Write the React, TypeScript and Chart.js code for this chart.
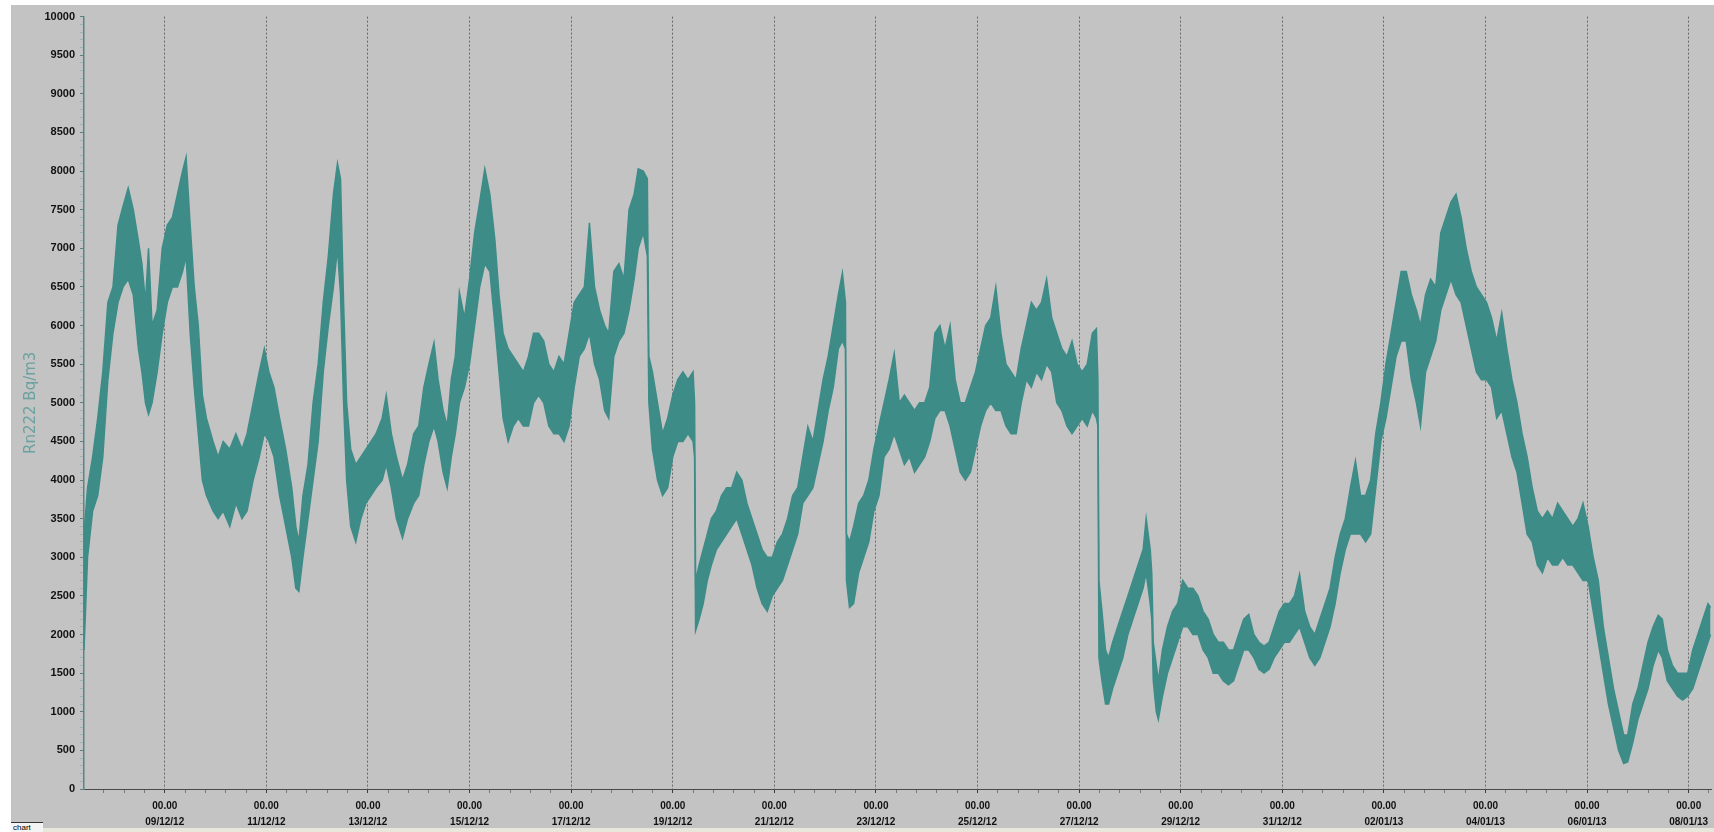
import React, { useEffect, useRef } from 'react';
import { Chart, registerables } from 'chart.js';

Chart.register(...registerables);

// time in days since 09/12/12 00:00
const times = [
  -1.59, -1.52, -1.42, -1.32, -1.22, -1.12, -1.02, -0.92, -0.82, -0.72, -0.62, -0.52, -0.45, -0.38, -0.32, -0.25, -0.15, -0.05,
  0.05, 0.15, 0.25, 0.35, 0.42, 0.5, 0.58, 0.66, 0.74, 0.82, 0.95, 1.05, 1.15, 1.28, 1.4, 1.52, 1.62, 1.74, 1.86, 1.96,
  2.05, 2.15, 2.26, 2.38, 2.5, 2.58, 2.64, 2.72, 2.82, 2.92, 3.02, 3.12, 3.22, 3.32, 3.4, 3.46, 3.52, 3.58, 3.66, 3.76, 3.86, 3.96,
  4.06, 4.16, 4.28, 4.36, 4.46, 4.56, 4.68, 4.78, 4.9,
  5.0, 5.1, 5.2, 5.3, 5.38, 5.48, 5.56, 5.64, 5.72, 5.8, 5.9, 6.0, 6.1, 6.2, 6.3, 6.4, 6.5, 6.58, 6.66, 6.76, 6.86, 6.96,
  7.06, 7.16, 7.26, 7.36, 7.46, 7.56, 7.66, 7.76, 7.86, 7.96, 8.06, 8.16, 8.26, 8.36, 8.46, 8.56, 8.66, 8.74, 8.84, 8.94,
  9.04, 9.14, 9.24, 9.32, 9.42, 9.5, 9.53, 9.6, 9.7, 9.8, 9.9, 10.0, 10.1, 10.2, 10.3, 10.4, 10.43, 10.45, 10.52, 10.6, 10.68,
  10.76, 10.86, 10.96, 11.06, 11.16, 11.26, 11.36, 11.46,
  11.56, 11.66, 11.76, 11.86, 11.96, 12.06, 12.16, 12.26, 12.36, 12.46, 12.56, 12.66, 12.76, 12.86, 12.96, 13.06, 13.16, 13.26,
  13.34, 13.4, 13.42, 13.48, 13.56, 13.66, 13.76, 13.86, 13.96, 14.06, 14.16, 14.26, 14.36, 14.46, 14.56, 14.66, 14.76, 14.86,
  14.96, 15.06, 15.16, 15.26, 15.36, 15.46, 15.56, 15.66, 15.76, 15.86, 15.96, 16.06, 16.16, 16.26, 16.36, 16.46, 16.56, 16.66,
  16.76, 16.86, 16.96, 17.06, 17.16, 17.26, 17.36, 17.46, 17.56, 17.66, 17.76, 17.86,
  17.96, 18.06, 18.16, 18.26, 18.34, 18.37, 18.39, 18.45, 18.52, 18.58, 18.66, 18.76, 18.86, 18.96, 19.06, 19.16, 19.26, 19.32,
  19.4, 19.43, 19.46, 19.52, 19.56, 19.64, 19.74, 19.84, 19.94, 20.04, 20.14, 20.24, 20.34, 20.44, 20.54, 20.64, 20.74, 20.84,
  20.94, 21.04, 21.14, 21.24, 21.34, 21.44, 21.54, 21.64, 21.74, 21.84, 21.94, 22.04, 22.14, 22.24, 22.34, 22.44, 22.54, 22.64,
  22.74, 22.84, 22.94, 23.04, 23.14, 23.24, 23.34, 23.44, 23.54, 23.64, 23.74, 23.84, 23.94, 24.04, 24.14, 24.24, 24.34,
  24.44, 24.54, 24.64, 24.72, 24.82, 24.92, 25.02, 25.12, 25.22, 25.32, 25.42, 25.52, 25.62, 25.72, 25.82, 25.92, 26.02, 26.12,
  26.22, 26.32, 26.42, 26.52, 26.62, 26.72, 26.82, 26.92, 27.02, 27.12, 27.22, 27.32, 27.42, 27.52, 27.62, 27.72, 27.82, 27.92,
  28.02, 28.12, 28.22, 28.32, 28.42, 28.52, 28.62, 28.72, 28.8, 28.9, 29.0, 29.1, 29.2, 29.3, 29.4, 29.48, 29.58, 29.68,
  29.78, 29.88, 29.98, 30.08, 30.18, 30.28, 30.38, 30.43,
];

// lower edge of the noisy Rn222 trace (Bq/m3)
const lows = [
  1800, 3000, 3600, 3800, 4300, 5300, 5900, 6300, 6500, 6600, 6400, 5700, 5400, 5000, 4850, 5000, 5400, 5900,
  6300, 6500, 6500, 6700, 6900, 5900, 5200, 4600, 4000, 3800, 3600, 3500, 3600, 3400, 3700, 3500, 3600, 4000, 4300, 4600,
  4500, 4300, 3800, 3400, 3000, 2600, 2560, 3000, 3500, 4000, 4500, 5400, 6000, 6500, 7000, 6400, 5000, 4000, 3400, 3200, 3500, 3700,
  3800, 3900, 4000, 4200, 3900, 3500, 3250, 3500, 3700,
  3800, 4200, 4500, 4700, 4500, 4100, 3900, 4300, 4600, 5000, 5200, 5500, 6000, 6500, 6800, 6700, 6000, 5400, 4800, 4500, 4700, 4800,
  4700, 4700, 5000, 5100, 5000, 4700, 4600, 4600, 4500, 4700, 5200, 5600, 5700, 5900, 5500, 5300, 4900, 4800, 5600, 5800,
  5900, 6200, 6600, 7000, 7200, 6900, 5000, 4400, 4000, 3800, 3900, 4300, 4500, 4500, 4600, 4500, 4300, 2050, 2200, 2400, 2700,
  2900, 3100, 3200, 3300, 3400, 3500, 3300, 3100,
  2900, 2600, 2400, 2300, 2500, 2600, 2700, 2900, 3100, 3300, 3700, 3800, 3900, 4200, 4500, 4900, 5200, 5700,
  5800, 5700, 2700, 2350, 2400, 2800, 3000, 3200, 3600, 3800, 4300, 4400, 4600, 4400, 4200, 4300, 4100, 4200,
  4300, 4500, 4800, 4900, 4900, 4700, 4400, 4100, 4000, 4100, 4400, 4700, 4900, 5000, 4900, 4900, 4700, 4600,
  4600, 5000, 5300, 5200, 5400, 5300, 5500, 5400, 5000, 4900, 4700, 4600,
  4700, 4800, 4700, 4900, 4800, 4700, 1700, 1400, 1100, 1100, 1300, 1500, 1700, 2000, 2200, 2400, 2600, 2800,
  2400, 2200, 1400, 1000, 900, 1200, 1500, 1700, 1900, 2100, 2100, 2000, 2000, 1800, 1700, 1500, 1500, 1400,
  1350, 1400, 1600, 1800, 1800, 1700, 1550, 1500, 1550, 1700, 1800, 1900, 1900, 2000, 2100, 1900, 1700, 1600,
  1700, 1900, 2100, 2400, 2800, 3100, 3300, 3300, 3300, 3200, 3300, 3900, 4500, 4800, 5200, 5600, 5800,
  5800, 5300, 5000, 4700, 5400, 5600, 5800, 6200, 6400, 6600, 6400, 6300, 6000, 5700, 5400, 5300, 5300, 5200,
  4800, 4900, 4600, 4300, 4100, 3700, 3300, 3200, 2900, 2800, 3000, 2900, 2900, 3000, 2900, 2900, 2800, 2700,
  2700, 2300, 1900, 1500, 1100, 800, 500, 330, 350, 600, 900, 1100, 1300, 1600, 1800, 1700, 1400, 1300,
  1200, 1150, 1200, 1300, 1500, 1700, 1900, 2000,
];

// upper edge of the noisy Rn222 trace (Bq/m3)
const highs = [
  3300, 3900, 4300, 4800, 5400, 6300, 6500, 7300, 7550, 7780, 7500, 7100, 6800, 6300, 7000, 6000, 6200, 7000,
  7300, 7400, 7700, 8000, 8180, 7300, 6500, 6000, 5100, 4800, 4500, 4300, 4500, 4400, 4600, 4400, 4600, 5000, 5400, 5700,
  5400, 5200, 4800, 4400, 3900, 3400, 3200, 3800, 4200, 5000, 5500, 6300, 6900, 7700, 8100, 7900, 6300, 5000, 4400, 4200, 4300, 4400,
  4500, 4600, 4800, 5100, 4600, 4300, 4000, 4200, 4600,
  4700, 5200, 5500, 5780, 5300, 4900, 4700, 5300, 5600, 6430, 6100, 6600, 7200, 7600, 8030, 7700, 7100, 6400, 5900, 5700, 5600, 5500,
  5400, 5600, 5900, 5900, 5800, 5500, 5400, 5600, 5500, 5900, 6300, 6400, 6500, 7330, 6500, 6200, 6000, 5900, 6700, 6800,
  6600, 7500, 7700, 8030, 8000, 7900, 5600, 5400, 5000, 4600, 4800, 5100, 5300, 5400, 5300, 5400, 5000, 2700, 2900, 3100, 3300,
  3500, 3600, 3800, 3900, 3900, 4100, 4000, 3700,
  3500, 3300, 3100, 3000, 3000, 3200, 3300, 3500, 3800, 3900, 4300, 4690, 4500, 4900, 5300, 5600, 6000, 6400,
  6680, 6300, 3300, 3200, 3400, 3700, 3800, 4000, 4400, 4700, 5000, 5300, 5640, 5000, 5100, 5000, 4900, 5000,
  5000, 5200, 5900, 6000, 5700, 6000, 5300, 5000, 5000, 5200, 5400, 5700, 6000, 6100, 6500, 5900, 5500, 5400,
  5300, 5700, 6000, 6300, 6200, 6300, 6600, 6100, 5900, 5700, 5600, 5800,
  5500, 5400, 5500, 5900, 5960, 5300, 2700, 2300, 1800, 1700, 1900, 2100, 2300, 2500, 2700, 2900, 3100, 3500,
  3100, 2800, 1900, 1600, 1400, 1800, 2100, 2300, 2400, 2700, 2600, 2600, 2500, 2300, 2200, 2000, 1900, 1900,
  1800, 1800, 2000, 2200, 2260, 2000, 1900, 1850, 1900, 2100, 2300, 2400, 2400, 2500, 2780, 2300, 2100, 2000,
  2200, 2400, 2600, 3000, 3300, 3500, 3900, 4250, 3800, 3800, 4000, 4600, 5000, 5500, 5900, 6300, 6700,
  6700, 6400, 6200, 6000, 6400, 6600, 6500, 7200, 7400, 7600, 7700, 7400, 7000, 6700, 6500, 6400, 6300, 6100,
  5800, 6160, 5700, 5300, 5000, 4600, 4300, 3900, 3600, 3500, 3600, 3500, 3700, 3600, 3500, 3400, 3500, 3700,
  3400, 3000, 2700, 2100, 1700, 1300, 1000, 700, 700, 1100, 1300, 1600, 1900, 2100, 2250, 2200, 1800, 1600,
  1500, 1500, 1500, 1800, 2000, 2200, 2400, 2350,
];

// x axis: labelled ticks (days since 09/12/12 00:00) and their texts
const majorDays = [0, 2, 4, 6, 8, 10, 12, 14, 16, 18, 20, 22, 24, 26, 28, 30];
const dateLabels = [
  '09/12/12', '11/12/12', '13/12/12', '15/12/12', '17/12/12', '19/12/12', '21/12/12', '23/12/12',
  '25/12/12', '27/12/12', '29/12/12', '31/12/12', '02/01/13', '04/01/13', '06/01/13', '08/01/13',
];
const timeLabel = '00.00';
const xMin = -1.59;
const xMax = 30.45;
const xMinorStep = 0.4;

// y axis
const yMin = 0;
const yMax = 10000;
const yLabelStep = 500;
const yMinorStep = 100;
const yTitle = 'Rn222 Bq/m3';

const TEAL = '#3e8c88';

const isMajorDay = (v: number) => majorDays.findIndex((d) => Math.abs(d - v) < 1e-6);

export default function App() {
  const ref = useRef<HTMLCanvasElement | null>(null);

  useEffect(() => {
    if (!ref.current) return;
    const upper = times.map((t, i) => ({ x: t, y: highs[i] }));
    const lower = times.map((t, i) => ({ x: t, y: lows[i] }));

    const xTicks: number[] = [];
    for (let k = Math.ceil(xMin / xMinorStep); k * xMinorStep <= xMax; k++) {
      xTicks.push(Math.round(k * xMinorStep * 100) / 100);
    }
    const yTicks: number[] = [];
    for (let v = yMin; v <= yMax; v += yMinorStep) yTicks.push(v);

    const chart = new Chart(ref.current, {
      type: 'line',
      data: {
        datasets: [
          {
            label: 'max',
            data: upper,
            borderColor: TEAL,
            borderWidth: 1.5,
            pointRadius: 0,
            fill: false,
            tension: 0,
          },
          {
            label: yTitle,
            data: lower,
            borderColor: TEAL,
            borderWidth: 1.5,
            pointRadius: 0,
            backgroundColor: TEAL,
            fill: '-1',
            tension: 0,
          },
        ],
      },
      options: {
        animation: false,
        responsive: false,
        devicePixelRatio: 1,
        events: [],
        layout: { padding: { top: 10, right: 2, left: 0, bottom: 0 } },
        plugins: { legend: { display: false }, tooltip: { enabled: false } },
        scales: {
          x: {
            type: 'linear',
            min: xMin,
            max: xMax,
            afterBuildTicks: (scale: any) => {
              scale.ticks = xTicks.map((v) => ({ value: v }));
            },
            afterFit: (scale: any) => {
              scale.height = 39;
            },
            ticks: {
              autoSkip: false,
              maxRotation: 0,
              minRotation: 0,
              padding: 5,
              color: '#111111',
              font: { family: '"Liberation Sans", Arial, sans-serif', size: 10, weight: 'bold', lineHeight: 1.6 },
              callback: (value: any) => {
                const i = isMajorDay(Number(value));
                return i >= 0 ? [timeLabel, dateLabels[i]] : '';
              },
            },
            grid: {
              drawOnChartArea: true,
              drawTicks: true,
              tickLength: 4,
              lineWidth: 1,
              color: (ctx: any) =>
                ctx.tick && isMajorDay(ctx.tick.value) >= 0 ? '#6a6a6a' : 'rgba(0,0,0,0)',
              tickColor: (ctx: any) =>
                ctx.tick && isMajorDay(ctx.tick.value) >= 0 ? '#3a3a3a' : '#7a7a7a',
              tickBorderDash: [],
            },
            border: { display: true, color: '#4a4a4a', width: 1, dash: [2, 2] },
          },
          y: {
            type: 'linear',
            min: yMin,
            max: yMax,
            afterBuildTicks: (scale: any) => {
              scale.ticks = yTicks.map((v) => ({ value: v }));
            },
            afterFit: (scale: any) => {
              scale.width = 73;
            },
            ticks: {
              autoSkip: false,
              padding: 5,
              color: '#111111',
              font: { family: '"Liberation Sans", Arial, sans-serif', size: 11, weight: 'bold' },
              callback: (value: any) => (Number(value) % yLabelStep === 0 ? String(value) : ''),
            },
            grid: {
              drawOnChartArea: false,
              drawTicks: true,
              tickLength: 4,
              tickColor: (ctx: any) =>
                ctx.tick && ctx.tick.value % yLabelStep === 0 ? '#5d7f7f' : '#9cb3b3',
            },
            border: { display: true, color: '#5b8585', width: 1.5 },
            title: {
              display: true,
              text: yTitle,
              color: '#6aa29f',
              font: { family: '"DejaVu Sans", sans-serif', size: 15 },
              padding: { top: 11, bottom: 0 },
            },
          },
        },
      },
    } as any);
    return () => chart.destroy();
  }, []);

  return (
    <div
      style={{
        position: 'fixed',
        left: 0,
        top: 0,
        width: 1714,
        height: 832,
        background: '#ffffff',
        overflow: 'hidden',
      }}
    >
      <div
        style={{
          position: 'absolute',
          left: 11,
          top: 5,
          width: 1703,
          height: 823,
          background: '#c3c3c3',
        }}
      >
        <canvas ref={ref} width={1703} height={823} style={{ display: 'block', width: 1703, height: 823 }} />
      </div>
      <div
        style={{
          position: 'absolute',
          left: 11,
          top: 828,
          width: 1703,
          height: 4,
          background: '#e9e6dc',
        }}
      />
      <div
        style={{
          position: 'absolute',
          left: 11,
          top: 822,
          width: 32,
          height: 10,
          background: '#f4f4f4',
          borderTop: '1px solid #333',
          fontFamily: '"Liberation Sans", Arial, sans-serif',
          fontSize: 8,
          lineHeight: '9px',
          color: '#000',
          overflow: 'hidden',
          paddingLeft: 2,
          boxSizing: 'border-box',
        }}
      >
        chart
      </div>
    </div>
  );
}
